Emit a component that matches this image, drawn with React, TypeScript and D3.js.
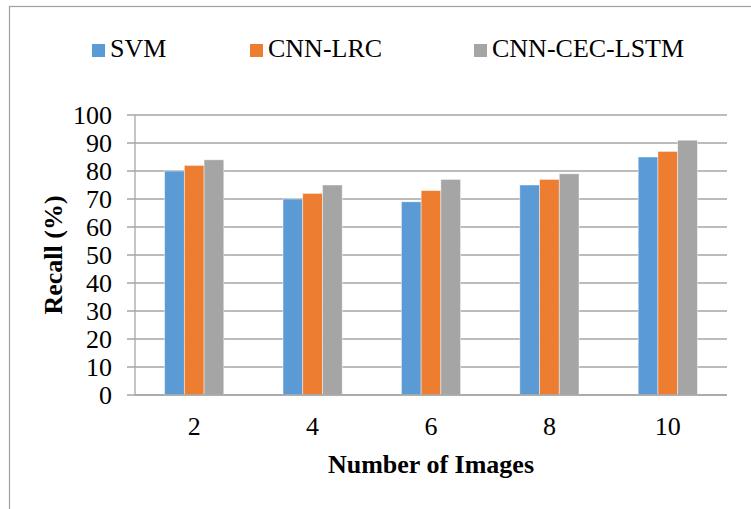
import React from "react";
import * as d3 from "d3";

const categories = ["2", "4", "6", "8", "10"];
const seriesNames = ["SVM", "CNN-LRC", "CNN-CEC-LSTM"];
const svmValues = [80, 70, 69, 75, 85];
const cnnLrcValues = [82, 72, 73, 77, 87];
const cnnCecLstmValues = [84, 75, 77, 79, 91];
const yTicks = [0, 10, 20, 30, 40, 50, 60, 70, 80, 90, 100];
const colors = ["#5b9bd5", "#ed7d31", "#a5a5a5"];

const W = 751;
const H = 509;
const FONT = 'Tinos, "Liberation Serif", "Times New Roman", "DejaVu Serif", serif';

export default function App() {
  const series = [svmValues, cnnLrcValues, cnnCecLstmValues];
  const x = d3.scaleBand<string>().domain(categories).range([135, 727]).paddingInner(0.5).paddingOuter(0.25);
  const xs = d3.scaleBand<number>().domain([0, 1, 2]).range([0, x.bandwidth()]);
  const y = d3.scaleLinear().domain([0, 100]).range([395, 115]);
  const legendX = [92, 250, 474];
  const gridColor = "#a6a6a6";
  const ts = { fontFamily: FONT } as React.CSSProperties;

  return (
    <div style={{ position: "fixed", left: 0, top: 0 }}>
      <svg width={W} height={H} style={{ display: "block", background: "#fff", fontFamily: FONT }}>
        <rect x={0} y={0} width={W} height={H} fill="#fff" />
        <rect x={9.5} y={6.5} width={W + 20} height={H + 20} fill="none" stroke="#a0a0a0" strokeWidth={1.2} />
        {yTicks.map((t) => (
          <line key={"g" + t} x1={127} x2={727} y1={y(t)} y2={y(t)} stroke={gridColor} strokeWidth={1.3} />
        ))}
        <line x1={135} x2={135} y1={y(100)} y2={y(0)} stroke={gridColor} strokeWidth={1.3} />
        {yTicks.map((t) => (
          <text key={"yl" + t} style={ts} x={112} y={y(t)} dy="0.33em" textAnchor="end" fontSize={26} fill="#000">
            {t}
          </text>
        ))}
        {categories.map((c, i) => (
          <g key={"c" + c} transform={`translate(${x(c)},0)`}>
            {series.map((vals, s) => (
              <rect
                key={s}
                x={xs(s)}
                y={y(vals[i])}
                width={xs.bandwidth()}
                height={y(0) - y(vals[i])}
                fill={colors[s]}
                stroke="#ffffff"
                strokeOpacity={0.6}
                strokeWidth={0.75}
              />
            ))}
          </g>
        ))}
        <line x1={135} x2={727} y1={y(0)} y2={y(0)} stroke={gridColor} strokeWidth={1.3} />
        {categories.map((c) => (
          <text key={"xl" + c} style={ts} x={(x(c) as number) + x.bandwidth() / 2} y={435} textAnchor="middle" fontSize={26} fill="#000">
            {c}
          </text>
        ))}
        <text style={ts} x={431} y={473} textAnchor="middle" fontSize={26} fontWeight="bold" fill="#000">
          Number of Images
        </text>
        <text style={ts} transform="translate(62,255) rotate(-90)" textAnchor="middle" fontSize={26} fontWeight="bold" fill="#000">
          Recall (%)
        </text>
        {seriesNames.map((n, s) => (
          <g key={"lg" + n}>
            <rect x={legendX[s]} y={44} width={13} height={13} fill={colors[s]} />
            <text style={ts} x={legendX[s] + 18} y={57} fontSize={26} fill="#000">
              {n}
            </text>
          </g>
        ))}
      </svg>
    </div>
  );
}
